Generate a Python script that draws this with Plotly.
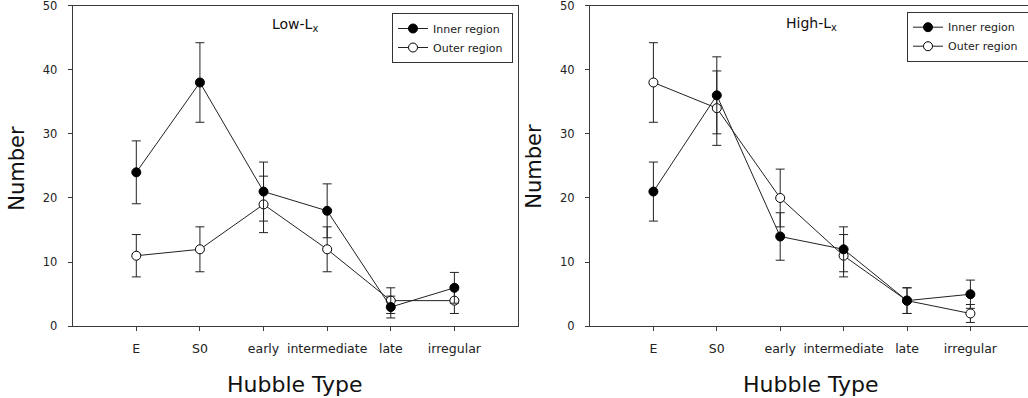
import plotly.graph_objects as go

W, H = 1028, 398

categories = ["E", "S0", "early", "intermediate", "late", "irregular"]
xpos = [1, 2, 3, 4, 5, 6]

low_inner = [24, 38, 21, 18, 3, 6]
low_inner_err = [4.9, 6.2, 4.6, 4.2, 1.7, 2.4]
low_outer = [11, 12, 19, 12, 4, 4]
low_outer_err = [3.3, 3.5, 4.4, 3.5, 2.0, 2.0]

high_inner = [21, 36, 14, 12, 4, 5]
high_inner_err = [4.6, 6.0, 3.7, 3.5, 2.0, 2.2]
high_outer = [38, 34, 20, 11, 4, 2]
high_outer_err = [6.2, 5.8, 4.5, 3.3, 2.0, 1.4]

yticks = [0, 10, 20, 30, 40, 50]

FONT = "DejaVu Sans"
LINE = "#222222"
AX = "#3a3a3a"
NB = "\u00a0"


def px(x):
    return x / W


def py(y):
    return (H - y) / H


fig = go.Figure()


def add_series(y, err, filled, name, xa, ya, legend):
    fig.add_trace(go.Scatter(
        x=xpos, y=y, mode="lines+markers", name=name,
        xaxis=xa, yaxis=ya, legend=legend, showlegend=True,
        line=dict(color=LINE, width=1),
        marker=dict(size=9, color="black" if filled else "white",
                    line=dict(color="black", width=1)),
        error_y=dict(type="data", array=err, visible=True,
                     color=LINE, thickness=1, width=4.5),
    ))


add_series(low_outer, low_outer_err, False, "Outer region" + NB, "x", "y", "legend")
add_series(low_inner, low_inner_err, True, "Inner region" + NB, "x", "y", "legend")
add_series(high_outer, high_outer_err, False, "Outer region" + NB * 5, "x2", "y2", "legend2")
add_series(high_inner, high_inner_err, True, "Inner region" + NB * 5, "x2", "y2", "legend2")

ytop, ybot = 5.5, 326.3
ydom = [py(ybot), py(ytop)]

common_x = dict(tickvals=xpos, ticktext=categories, ticks="outside", ticklen=4,
                tickcolor=AX, showline=True, linecolor=AX, linewidth=1,
                showgrid=False, zeroline=False,
                tickfont=dict(family=FONT, size=12.5, color="#222"),
                ticklabelstandoff=7, fixedrange=True, ticklabeloverflow="allow",
                automargin=False)
common_y = dict(range=[0, 50], tickvals=yticks, ticks="outside", ticklen=4,
                tickcolor=AX, showline=True, linecolor=AX, linewidth=1,
                showgrid=False, zeroline=False,
                tickfont=dict(family=FONT, size=11.5, color="#222"),
                ticklabelstandoff=8, domain=ydom, fixedrange=True,
                ticklabeloverflow="allow", automargin=False)

legend_common = dict(xanchor="left", yanchor="top",
                     bgcolor="white", bordercolor="#333", borderwidth=1,
                     font=dict(family=FONT, size=11, color="#222"),
                     traceorder="reversed", itemwidth=30, tracegroupgap=0)

fig.update_layout(
    width=W, height=H, autosize=False,
    margin=dict(l=0, r=0, t=0, b=0, pad=0, autoexpand=False),
    paper_bgcolor="white", plot_bgcolor="white",
    xaxis=dict(common_x, domain=[px(72.7), px(518)], range=[0, 7],
               mirror=True, anchor="y"),
    yaxis=dict(common_y, mirror=True, anchor="x"),
    xaxis2=dict(common_x, domain=[px(590), 1.0], range=[0, (1028 - 590) / 63.4],
                mirror=True, anchor="y2"),
    yaxis2=dict(common_y, mirror=False, anchor="x2"),
    legend=dict(legend_common, x=px(392), y=py(13)),
    legend2=dict(legend_common, x=px(907), y=py(11.7)),
    showlegend=True,
)

# plot frame top edges (frame lines, not data)
for x0, x1 in [(px(72.7), px(518)), (px(590), 1.0)]:
    fig.add_shape(type="line", xref="paper", yref="paper", x0=x0, x1=x1,
                  y0=py(ytop), y1=py(ytop), line=dict(color=AX, width=1), layer="above")

annots = [
    dict(text="Low-L<sub>x</sub>", x=px(295), y=py(25), size=14),
    dict(text="High-L<sub>x</sub>", x=px(811.7), y=py(24), size=14),
    dict(text="Hubble Type", x=px(295.4), y=py(384), size=22),
    dict(text="Hubble Type", x=px(810.8), y=py(384), size=22),
]
for a in annots:
    fig.add_annotation(text=a["text"], x=a["x"], y=a["y"], xref="paper", yref="paper",
                       xanchor="center", yanchor="middle", showarrow=False,
                       font=dict(family=FONT, size=a["size"], color="#111"))

for xc, yc in [(16.7, 168), (534, 166.7)]:
    fig.add_annotation(text="Number", x=px(xc), y=py(yc), xref="paper", yref="paper",
                       xanchor="center", yanchor="middle", showarrow=False, textangle=-90,
                       font=dict(family=FONT, size=21, color="#111"))

fig.write_html("out.html")
